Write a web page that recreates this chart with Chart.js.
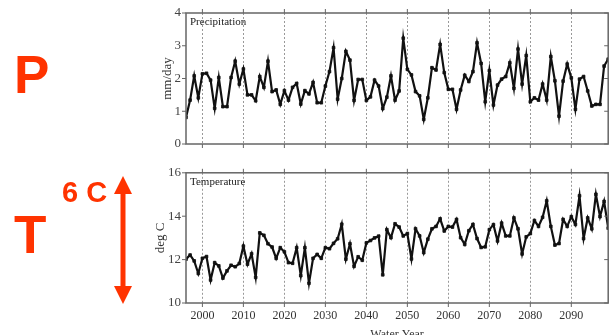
<!DOCTYPE html>
<html>
<head>
<meta charset="utf-8">
<script src="https://cdn.jsdelivr.net/npm/chart.js@4"></script>
<style>
  html, body { margin: 0; padding: 0; background: #fff; overflow: hidden; }
  body { width: 613px; height: 335px; position: relative; }
  .wrap { position: absolute; left: 0; width: 613px; }
  #top-wrap { top: 0; height: 160px; }
  #bot-wrap { top: 160px; height: 185px; }
  .big { position: absolute; color: #ff3300; font-family: "Liberation Sans", Arial, sans-serif; font-weight: bold; line-height: 1; white-space: nowrap; }
  #arrow { position: absolute; left: 110px; top: 174px; }
</style>
</head>
<body>
<div class="wrap" id="top-wrap"><canvas id="chart-p"></canvas></div>
<div class="wrap" id="bot-wrap"><canvas id="chart-t"></canvas></div>

<div class="big" style="left:14px; top:48px; font-size:53px;">P</div>
<div class="big" style="left:14px; top:208px; font-size:53px;">T</div>
<div class="big" style="left:62px; top:178px; font-size:29px;">6 C</div>
<svg id="arrow" width="26" height="134" viewBox="0 0 26 134">
  <line x1="13" y1="14" x2="13" y2="118" stroke="#ff3300" stroke-width="5"/>
  <polygon points="13,2 4,20 22,20" fill="#ff3300"/>
  <polygon points="13,130 4,112 22,112" fill="#ff3300"/>
</svg>

<script>
const FIRST_YEAR = 1996;

// mm/day, water years 1996-2099
const precip = [
  0.81, 1.34, 2.08, 1.41, 2.14, 2.16, 1.95, 1.09, 2.03, 1.14,
  1.14, 2.03, 2.53, 1.83, 2.29, 1.50, 1.50, 1.32, 2.06, 1.73,
  2.53, 1.60, 1.65, 1.21, 1.63, 1.34, 1.73, 1.85, 1.22, 1.63,
  1.53, 1.88, 1.26, 1.26, 1.77, 2.21, 2.94, 1.37, 2.00, 2.83,
  2.56, 1.33, 1.97, 1.97, 1.33, 1.44, 1.95, 1.77, 1.08, 1.43,
  2.08, 1.34, 1.62, 3.23, 2.28, 2.11, 1.60, 1.47, 0.75, 1.41,
  2.33, 2.26, 3.04, 2.18, 1.67, 1.67, 1.06, 1.65, 2.10, 1.91,
  2.21, 3.09, 2.46, 1.29, 2.24, 1.19, 1.80, 1.98, 2.06, 2.48,
  1.70, 2.90, 1.83, 2.70, 1.29, 1.41, 1.34, 1.83, 1.34, 2.67,
  1.93, 0.85, 1.92, 2.44, 2.02, 1.06, 1.98, 2.06, 1.62, 1.16,
  1.21, 1.21, 2.38, 2.59
];

// deg C, water years 1996-2099
const temp = [
  12.02, 12.21, 11.94, 11.36, 12.06, 12.14, 11.06, 11.86, 11.71, 11.15,
  11.48, 11.74, 11.67, 11.82, 12.62, 11.79, 12.27, 11.18, 13.23, 13.12,
  12.73, 12.58, 12.06, 12.55, 12.36, 11.86, 11.83, 12.55, 11.26, 12.55,
  10.91, 12.06, 12.24, 12.06, 12.55, 12.50, 12.75, 12.96, 13.63, 12.02,
  12.73, 11.69, 12.13, 11.97, 12.77, 12.88, 13.00, 13.08, 11.30, 13.38,
  13.01, 13.65, 13.50, 13.09, 13.20, 12.03, 13.42, 13.09, 12.32, 12.94,
  13.42, 13.53, 13.88, 13.32, 13.53, 13.50, 13.85, 13.01, 12.70, 13.33,
  13.62, 12.97, 12.56, 12.59, 13.38, 13.61, 12.86, 13.68, 13.09, 13.09,
  13.92, 13.42, 12.26, 13.05, 13.20, 13.80, 13.53, 13.95, 14.71, 13.53,
  12.67, 12.74, 13.85, 13.53, 13.98, 13.62, 14.94, 12.97, 13.92, 13.42,
  15.01, 13.98, 14.68, 13.45
];

const xTicks = [2000, 2010, 2020, 2030, 2040, 2050, 2060, 2070, 2080, 2090];
const precipTicks = [0, 1, 2, 3, 4];
const tempTicks = [10, 12, 14, 16];

const serif = '"Liberation Serif", "Times New Roman", serif';

function toPoints(values) {
  return values.map((v, i) => ({ x: FIRST_YEAR + i, y: v }));
}

// frame, tick marks and the panel name
const framePlugin = {
  id: 'frame',
  afterDraw(chart, args, opts) {
    const { ctx, chartArea: a, scales } = chart;
    ctx.save();
    ctx.strokeStyle = '#666';
    ctx.lineWidth = 1.5;
    ctx.strokeRect(a.left, a.top, a.right - a.left, a.bottom - a.top);
    ctx.lineWidth = 1;
    ctx.beginPath();
    scales.x.ticks.forEach(t => {
      const px = scales.x.getPixelForValue(t.value);
      ctx.moveTo(px, a.bottom); ctx.lineTo(px, a.bottom + 4);
      ctx.moveTo(px, a.top); ctx.lineTo(px, a.top - 4);
    });
    scales.y.ticks.forEach(t => {
      const py = scales.y.getPixelForValue(t.value);
      ctx.moveTo(a.left - 4, py); ctx.lineTo(a.left, py);
      ctx.moveTo(a.right - 4, py); ctx.lineTo(a.right, py);
    });
    ctx.stroke();
    ctx.fillStyle = '#222';
    ctx.font = '11px ' + serif;
    ctx.textBaseline = 'top';
    ctx.fillText(opts.label, a.left + 4, a.top + 4);
    ctx.restore();
  }
};

function makePanel(canvasId, values, yMin, yMax, yTicks, yTitle, panelLabel, pad, showX) {
  const ctx = document.getElementById(canvasId).getContext('2d');
  return new Chart(ctx, {
    type: 'line',
    data: {
      datasets: [{
        data: toPoints(values),
        borderColor: '#111',
        backgroundColor: '#111',
        borderWidth: 2.2,
        pointRadius: 1.9,
        pointBorderWidth: 0.8,
        pointStyle: 'rect',
        tension: 0
      }]
    },
    options: {
      responsive: true,
      maintainAspectRatio: false,
      animation: false,
      layout: { padding: pad.layout },
      plugins: {
        legend: { display: false },
        tooltip: { enabled: false },
        frame: { label: panelLabel }
      },
      scales: {
        x: {
          type: 'linear',
          min: FIRST_YEAR,
          max: 2099,
          afterBuildTicks: s => { s.ticks = xTicks.map(v => ({ value: v })); },
          afterFit: s => { s.height = pad.xHeight; },
          grid: { color: '#999', lineWidth: 1, drawTicks: false },
          border: { display: false, dash: [2, 2] },
          ticks: {
            display: showX,
            padding: 6,
            color: '#333',
            font: { family: serif, size: 12 },
            callback: v => String(v)
          },
          title: {
            display: showX,
            text: 'Water Year',
            color: '#333',
            font: { family: serif, size: 12 },
            padding: { top: 0, bottom: 3 }
          }
        },
        y: {
          min: yMin,
          max: yMax,
          afterBuildTicks: s => { s.ticks = yTicks.map(v => ({ value: v })); },
          afterFit: s => { s.width = pad.yWidth; },
          grid: { display: false, drawTicks: false },
          border: { display: false },
          ticks: {
            padding: 5,
            color: '#444',
            font: { family: serif, size: 13 },
            callback: v => String(v)
          },
          title: {
            display: true,
            text: yTitle,
            color: '#333',
            font: { family: serif, size: 13 },
            padding: { top: 0, bottom: 0 }
          }
        }
      }
    },
    plugins: [framePlugin]
  });
}

makePanel('chart-p', precip, 0, 4, precipTicks, 'mm/day', 'Precipitation',
  { layout: { left: 160, right: 1, top: 13, bottom: 0 }, xHeight: 16, yWidth: 26 }, false);

makePanel('chart-t', temp, 10, 16, tempTicks, 'deg C', 'Temperature',
  { layout: { left: 153, right: 1, top: 11, bottom: 0 }, xHeight: 42, yWidth: 33 }, true);
</script>
</body>
</html>
